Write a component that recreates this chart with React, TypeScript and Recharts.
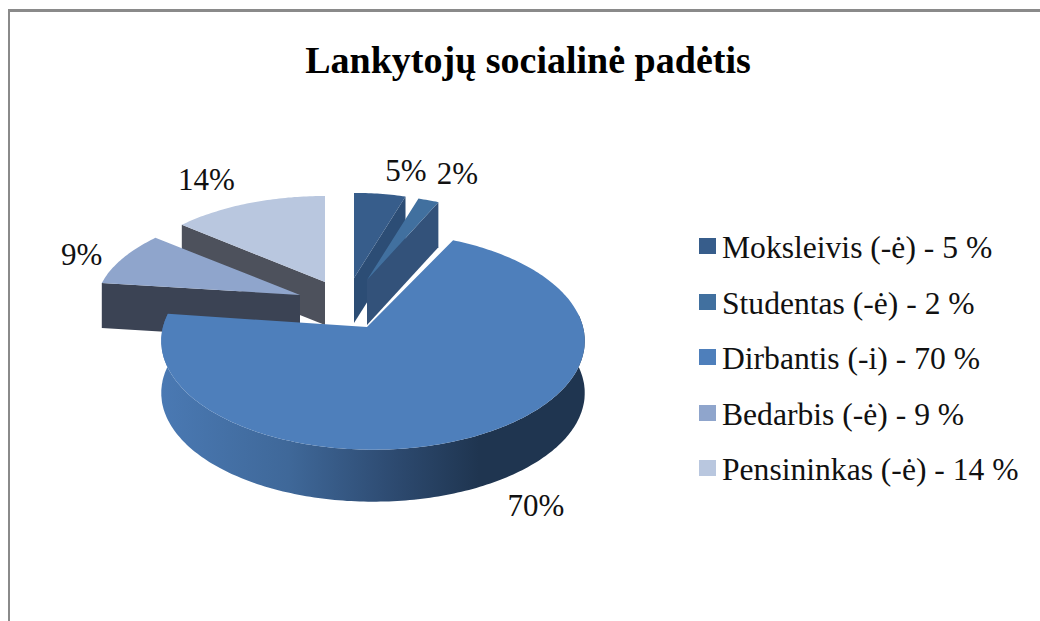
import { PieChart, Pie, Legend } from "recharts";

const categories = ["Moksleivis (-ė)", "Studentas (-ė)", "Dirbantis (-i)", "Bedarbis (-ė)", "Pensininkas (-ė)"];
const shares = [5, 2, 70, 9, 14];

const topColors = ["#375d8b", "#41709f", "#4e7fbb", "#8fa5cc", "#b9c7df"];
const wallColors = ["#2c4d75", "#33527a", "url(#mainWall)", "#3b4354", "#4d515c"];

// explode offset of each slice from the pie centre, and its projected size
const explodeX = [7, 20, 20, -47, -22];
const explodeY = [-22, -20, 27, -5, -18];
const arcShiftX = [0, 0, 6, 0, 0];
const radiusX = [1.87, 1.87, 2.1, 2.03, 2.01];
const radiusY = [0.96, 0.96, 1.07, 0.97, 0.97];
const depths = [45, 45, 52, 45, 43];
const labelNudgeX = [26, 29, 49, -41, -42];
const labelNudgeY = [-13, -16, 83, 7, -13];

// back slices first so the nearer ones cover them
const drawOrder = [0, 1, 4, 3, 2];
const PERSPECTIVE = 0.128;

const FONT = "'Liberation Serif', 'Times New Roman', serif";

const chartData = categories.map((name, i) => ({
  name,
  value: shares[i],
  idx: i,
  fill: topColors[i],
}));

const rad = (a: number) => (a * Math.PI) / 180;

// angle on the disc -> screen point, with a simple perspective
function project(cx: number, cy: number, R: number, i: number, a: number) {
  const u = Math.cos(rad(a));
  const v = Math.sin(rad(a));
  const w = 1 + PERSPECTIVE * v;
  return {
    x: cx + explodeX[i] + arcShiftX[i] + (R * radiusX[i] * u) / w,
    y: cy + explodeY[i] - (R * radiusY[i] * v) / w,
  };
}

const toPath = (pts: { x: number; y: number }[]) =>
  pts.map((p, n) => `${n ? "L" : "M"}${p.x.toFixed(1)},${p.y.toFixed(1)}`).join(" ") + " Z";

const makeSlice = (layer: number) => (props: any) => {
  const { cx, cy, outerRadius, startAngle, endAngle } = props;
  const i = props.idx ?? props.payload?.idx;
  if (i !== layer) return <g />;
  const d = depths[i];
  const tip = { x: cx + explodeX[i], y: cy + explodeY[i] };
  const down = (p: { x: number; y: number }) => ({ x: p.x, y: p.y + d });

  const arc: { x: number; y: number }[] = [];
  const front: { x: number; y: number }[] = [];
  const steps = Math.max(2, Math.ceil(Math.abs(endAngle - startAngle)));
  for (let s = 0; s <= steps; s++) {
    const a = startAngle + ((endAngle - startAngle) * s) / steps;
    const p = project(cx, cy, outerRadius, i, a);
    arc.push(p);
    if (Math.sin(rad(a)) <= 0.13) front.push(p);
  }

  const first = arc[0];
  const last = arc[arc.length - 1];
  const showStart = Math.cos(rad(startAngle)) < -0.001;
  const showEnd = Math.cos(rad(endAngle)) > 0.001;

  return (
    <g>
      <defs>
        <linearGradient id="mainWall" x1="0" y1="0" x2="1" y2="0">
          <stop offset="0" stopColor="#4a79b3" />
          <stop offset="0.3" stopColor="#3f6899" />
          <stop offset="0.55" stopColor="#2d4a70" />
          <stop offset="0.75" stopColor="#1f3550" />
          <stop offset="1" stopColor="#1f3550" />
        </linearGradient>
      </defs>
      {showStart && <path d={toPath([tip, first, down(first), down(tip)])} fill={wallColors[i]} />}
      {showEnd && <path d={toPath([tip, last, down(last), down(tip)])} fill={wallColors[i]} />}
      {front.length > 1 && (
        <path d={toPath([...front, ...front.map(down).reverse()])} fill={wallColors[i]} />
      )}
      <path d={toPath([tip, ...arc])} fill={topColors[i]} />
    </g>
  );
};

const renderLabel = (props: any) => {
  const { cx, cy, outerRadius, midAngle, index, value } = props;
  const p = project(cx, cy, outerRadius, index, midAngle);
  return (
    <text
      x={p.x + labelNudgeX[index]}
      y={p.y + labelNudgeY[index]}
      textAnchor="middle"
      fontFamily={FONT}
      fontSize={31}
      fill="#111"
    >
      {value}%
    </text>
  );
};

const LegendBox = () => (
  <div style={{ fontFamily: FONT, fontSize: 31.6, color: "#111" }}>
    {categories.map((name, i) => (
      <div key={name} style={{ position: "relative", height: 55.5, lineHeight: "55px", whiteSpace: "nowrap" }}>
        <span
          style={{
            position: "absolute",
            left: 0,
            top: 15,
            width: 17,
            height: 16,
            background: topColors[i],
          }}
        />
        <span style={{ position: "absolute", left: 23, top: -3 }}>
          {name} - {shares[i]} %
        </span>
      </div>
    ))}
  </div>
);

export default function App() {
  return (
    <div style={{ position: "fixed", left: 0, top: 0, width: 1040, height: 621, background: "#fff" }}>
      <div style={{ position: "absolute", left: 8, top: 9, width: 1032, height: 3, background: "#8a8a8a" }} />
      <div style={{ position: "absolute", left: 8, top: 9, width: 2, height: 612, background: "#8a8a8a" }} />
      <PieChart width={1040} height={621} style={{ position: "absolute", left: 0, top: 0 }}>
        <text x={528} y={73} textAnchor="middle" fontFamily={FONT} fontSize={38} fontWeight="bold" fill="#000">
          Lankytojų socialinė padėtis
        </text>
        {drawOrder.map((layer, n) => (
          <Pie
            key={layer}
            data={chartData}
            dataKey="value"
            nameKey="name"
            cx={342}
            cy={295}
            outerRadius={100}
            startAngle={90}
            endAngle={-270}
            stroke="none"
            isAnimationActive={false}
            legendType="none"
            shape={makeSlice(layer)}
            label={n === drawOrder.length - 1 ? renderLabel : false}
            labelLine={false}
          />
        ))}
        <Legend
          layout="vertical"
          content={<LegendBox />}
          wrapperStyle={{ position: "absolute", left: 699, top: 223, width: 340, height: 280 }}
        />
      </PieChart>
    </div>
  );
}
